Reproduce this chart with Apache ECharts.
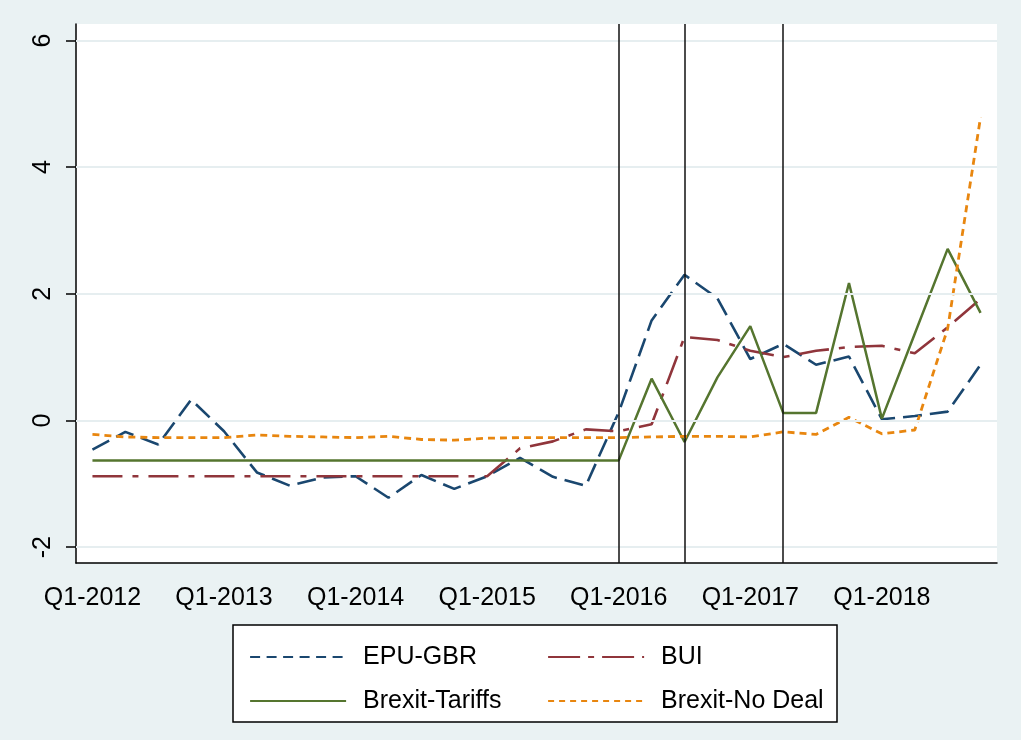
<!DOCTYPE html>
<html>
<head>
<meta charset="utf-8">
<script src="https://cdn.jsdelivr.net/npm/echarts@6/dist/echarts.min.js"></script>
<style>
html,body{margin:0;padding:0;background:#EAF2F3;}
#chart{width:1021px;height:740px;}
</style>
</head>
<body>
<div id="chart"></div>
<script>
var quarters = ['Q1-2012','Q2-2012','Q3-2012','Q4-2012','Q1-2013','Q2-2013','Q3-2013','Q4-2013',
  'Q1-2014','Q2-2014','Q3-2014','Q4-2014','Q1-2015','Q2-2015','Q3-2015','Q4-2015',
  'Q1-2016','Q2-2016','Q3-2016','Q4-2016','Q1-2017','Q2-2017','Q3-2017','Q4-2017',
  'Q1-2018','Q2-2018','Q3-2018','Q4-2018'];
var epuGbr = [-0.46,-0.18,-0.38,0.33,-0.17,-0.82,-1.03,-0.90,-0.88,-1.22,-0.86,-1.08,-0.88,-0.59,-0.89,-1.03,
  0.13,1.58,2.30,1.93,0.97,1.21,0.88,1.01,0.02,0.07,0.14,0.88];
var bui = [-0.88,-0.88,-0.88,-0.88,-0.88,-0.88,-0.88,-0.88,-0.88,-0.88,-0.88,-0.88,-0.88,-0.44,-0.33,-0.14,
  -0.17,-0.06,1.32,1.27,1.10,1.00,1.10,1.16,1.18,1.06,1.47,1.92];
var brexitTariffs = [-0.63,-0.63,-0.63,-0.63,-0.63,-0.63,-0.63,-0.63,-0.63,-0.63,-0.63,-0.63,-0.63,-0.63,-0.63,-0.63,
  -0.63,0.66,-0.34,0.68,1.49,0.12,0.12,2.17,0.03,1.37,2.71,1.70];
var brexitNoDeal = [-0.22,-0.26,-0.27,-0.27,-0.27,-0.23,-0.25,-0.26,-0.27,-0.25,-0.30,-0.31,-0.28,-0.27,-0.27,-0.27,
  -0.27,-0.26,-0.25,-0.25,-0.26,-0.18,-0.22,0.05,-0.21,-0.15,1.45,4.79];
var yTicks = [-2,0,2,4,6];
var eventQuarters = ['Q1-2016','Q3-2016','Q2-2017'];

var FONT = '"Liberation Sans", Arial, sans-serif';
var chart = echarts.init(document.getElementById('chart'));

var gridLines = yTicks.map(function(v){ return {yAxis: v}; });
var eventLines = eventQuarters.map(function(q){ return {xAxis: q}; });
var blanks = quarters.map(function(){ return null; });

var legendText = {fontSize: 25, color: '#000', fontFamily: FONT, lineHeight: 30, padding: [0,0,0,12]};
var noSymbol = {opacity: 0, borderWidth: 0};

var option = {
  backgroundColor: '#EAF2F3',
  animation: false,
  textStyle: {fontFamily: FONT},
  grid: {left: 76, right: 24, top: 24, bottom: 177, show: true, backgroundColor: '#ffffff', borderWidth: 0, containLabel: false},
  xAxis: {
    type: 'category', data: quarters, boundaryGap: true,
    axisLine: {onZero: false, lineStyle: {color: '#000', width: 1.5}},
    axisTick: {alignWithLabel: true, interval: 3, length: 10, lineStyle: {color: '#000', width: 1.5}},
    axisLabel: {interval: 3, fontSize: 25, color: '#000', fontFamily: FONT, margin: 23},
    splitLine: {show: false}
  },
  yAxis: {
    type: 'value', min: -2.25, max: 6.26,
    axisLine: {show: true, lineStyle: {color: '#000', width: 1.5}},
    axisTick: {show: true, length: 10, customValues: yTicks, lineStyle: {color: '#000', width: 1.5}},
    axisLabel: {customValues: yTicks, rotate: 90, fontSize: 25, color: '#000', fontFamily: FONT, margin: 20},
    splitLine: {show: false}
  },
  graphic: [{
    type: 'rect', z: 1, shape: {x: 233, y: 625, width: 604, height: 97},
    style: {fill: '#ffffff', stroke: '#000', lineWidth: 1.5}
  }],
  legend: [{
    orient: 'vertical', left: 244, top: 637, itemWidth: 96, itemHeight: 14, itemGap: 14, z: 5,
    textStyle: legendText, itemStyle: noSymbol,
    data: [
      {name: 'EPU-GBR', itemStyle: noSymbol, lineStyle: {type: [10, 6.5], width: 2.2}},
      {name: 'Brexit-Tariffs', itemStyle: noSymbol, lineStyle: {width: 2.2}}
    ]
  }, {
    orient: 'vertical', left: 542, top: 637, itemWidth: 96, itemHeight: 14, itemGap: 14, z: 5,
    textStyle: legendText, itemStyle: noSymbol,
    data: [
      {name: 'BUI', itemStyle: noSymbol, lineStyle: {type: [32, 8, 6, 8], width: 2.2}},
      {name: 'Brexit-No Deal', itemStyle: noSymbol, lineStyle: {type: [6, 5], width: 2.2}}
    ]
  }],
  series: [
    {
      name: 'grid', type: 'line', data: blanks, z: 1, silent: true,
      markLine: {silent: true, symbol: 'none', label: {show: false},
        lineStyle: {color: '#E6EEF0', width: 2, type: 'solid'}, data: gridLines}
    },
    {
      name: 'EPU-GBR', type: 'line', data: epuGbr, symbol: 'none', showSymbol: false, z: 3,
      lineStyle: {color: '#1A476F', width: 2.6, type: [19, 8]}, itemStyle: {color: '#1A476F'}
    },
    {
      name: 'BUI', type: 'line', data: bui, symbol: 'none', showSymbol: false, z: 3,
      lineStyle: {color: '#90353B', width: 2.6, type: [30, 10, 6, 10]}, itemStyle: {color: '#90353B'}
    },
    {
      name: 'Brexit-Tariffs', type: 'line', data: brexitTariffs, symbol: 'none', showSymbol: false, z: 3,
      lineStyle: {color: '#55752F', width: 2.5, type: 'solid'}, itemStyle: {color: '#55752F'}
    },
    {
      name: 'Brexit-No Deal', type: 'line', data: brexitNoDeal, symbol: 'none', showSymbol: false, z: 3,
      lineStyle: {color: '#E8860F', width: 2.8, type: [7, 5]}, itemStyle: {color: '#E8860F'}
    },
    {
      name: 'events', type: 'line', data: blanks, z: 4, silent: true,
      markLine: {silent: true, symbol: 'none', label: {show: false},
        lineStyle: {color: '#111', width: 1.5, type: 'solid'}, data: eventLines}
    }
  ]
};
chart.setOption(option);
</script>
</body>
</html>
